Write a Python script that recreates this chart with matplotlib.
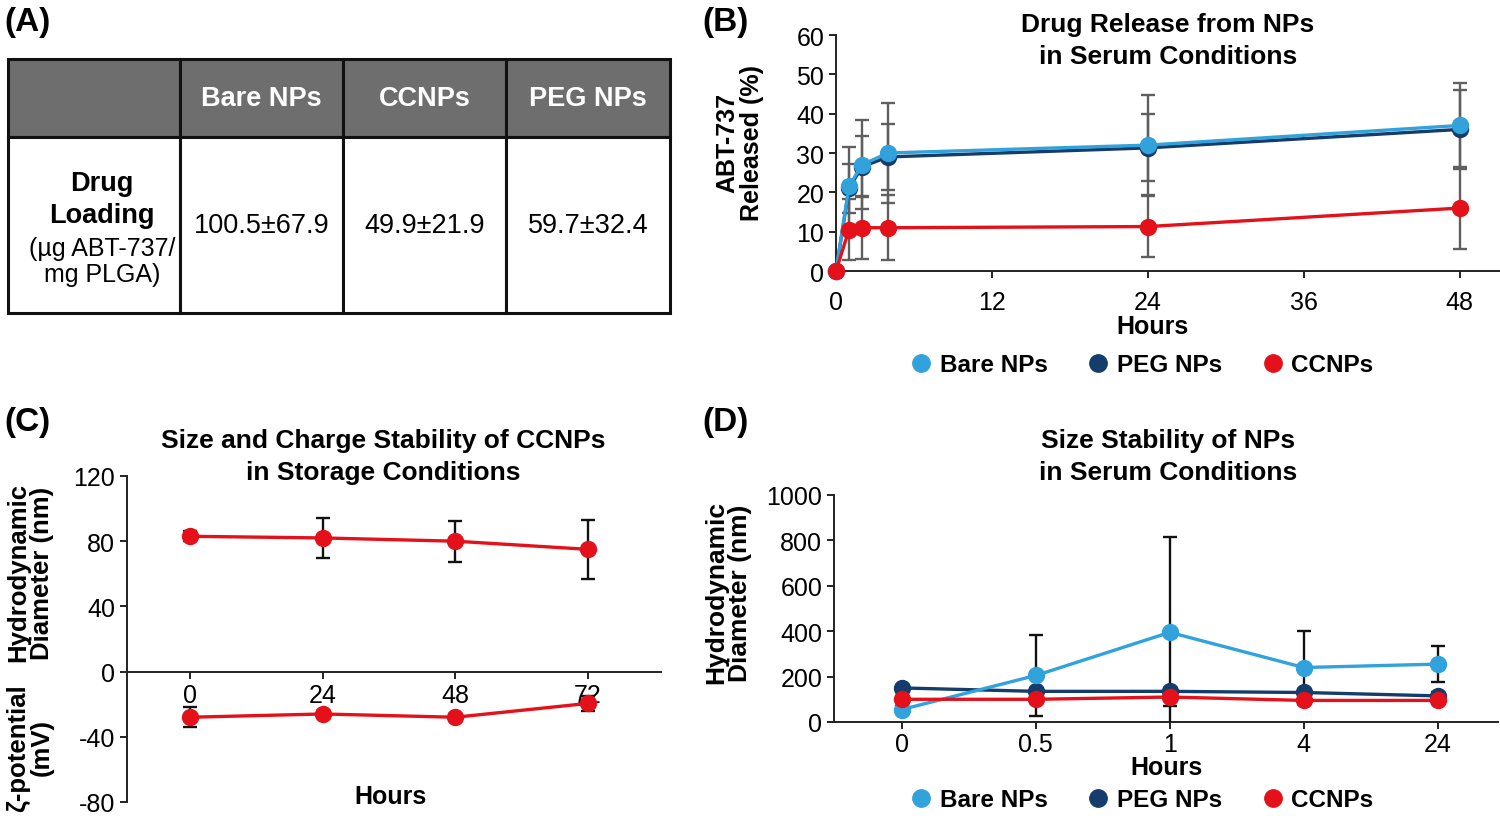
import numpy as np
import matplotlib
matplotlib.use("Agg")
from matplotlib import pyplot as plt
from matplotlib.lines import Line2D

plt.rcParams['font.family'] = ['Liberation Sans', 'DejaVu Sans']
plt.rcParams['axes.unicode_minus'] = False

W, H = 1500, 828

# ---- data -------------------------------------------------------------
groups_a = ['Bare NPs', 'CCNPs', 'PEG NPs']
loading = ['100.5±67.9', '49.9±21.9', '59.7±32.4']

hours_b = [0, 1, 2, 4, 24, 48]
bare_b = [0, 21.5, 27, 30, 32, 37]
bare_b_err = [0, 10, 11.3, 12.7, 12.7, 10.7]
peg_b = [0, 21, 26.5, 29, 31.3, 36]
peg_b_err = [0, 6.3, 7.7, 8.3, 8.5, 10]
cc_b = [0, 10.5, 11, 11, 11.3, 16]
cc_b_err = [0, 7.7, 8, 8.2, 7.8, 10.5]

hours_c = [0, 24, 48, 72]
size_c = [83, 82, 80, 75]
size_c_err = [3, 12.5, 12.5, 18]
zeta_c = [-28, -26, -28, -19.5]
zeta_c_err = [6, 2, 2, 4.5]

hours_d = ['0', '0.5', '1', '4', '24']
bare_d = [55, 205, 395, 240, 255]
bare_d_err = [15, 180, 420, 160, 80]
peg_d = [150, 135, 135, 130, 115]
peg_d_err = [15, 15, 15, 15, 15]
cc_d = [100, 100, 110, 95, 95]
cc_d_err = [15, 15, 40, 15, 15]

C_BARE = '#31a2dc'
C_PEG = '#143d6b'
C_CC = '#e4111b'

TICK_FS = 18
TITLE_FS = 19


def box(l, t, r, b):
    return [l / W, 1 - b / H, (r - l) / W, (b - t) / H]


def style_axes(ax):
    for s in ('top', 'right'):
        ax.spines[s].set_visible(False)
    for s in ('left', 'bottom'):
        ax.spines[s].set_linewidth(1.4)
        ax.spines[s].set_color('#222222')
    ax.tick_params(labelsize=TICK_FS, width=1.4, length=5, color='#222222')


def series(ax, x, y, err, color, ecolor, clip=False):
    ax.errorbar(x, y, yerr=err, color=color, lw=2.4, marker='o', ms=11.5,
                ecolor=ecolor, elinewidth=1.7, capsize=5, capthick=1.7,
                clip_on=clip, zorder=3)


def bold_text(x, y, s, size, **kw):
    fig.text(x / W, 1 - y / H, s, ha='center', va='center', fontsize=size,
             fontweight='bold', **kw)


def marker_legend(y_px):
    handles = [Line2D([], [], ls='none', marker='o', ms=12.5, color=c)
               for c in (C_BARE, C_PEG, C_CC)]
    fig.legend(handles, ['Bare NPs', 'PEG NPs', 'CCNPs'], loc='center',
               bbox_to_anchor=(1140 / W, 1 - y_px / H), ncol=3, frameon=False,
               handletextpad=0.15, columnspacing=1.5, handlelength=1.2,
               prop={'weight': 'bold', 'size': 17.5})


fig = plt.figure(figsize=(15, 8.28), dpi=100)

# ---- panel labels -----------------------------------------------------
for lab, x, y in [('(A)', 4, 22), ('(B)', 702, 22), ('(C)', 4, 423), ('(D)', 702, 423)]:
    fig.text(x / W, 1 - y / H, lab, fontsize=24, fontweight='bold', va='center')

# ---- (A) table --------------------------------------------------------
ax_a = fig.add_axes(box(8, 60, 670, 314))
ax_a.axis('off')
tab = ax_a.table(cellText=[[''] + groups_a, [''] + loading],
                 colWidths=[172, 163, 163, 164], cellLoc='center',
                 bbox=[0, 0, 1, 1])
tab.auto_set_font_size(False)
for (r, c), cell in tab.get_celld().items():
    cell.set_linewidth(2.2)
    cell.set_edgecolor('#111111')
    cell.set_height(78 if r == 0 else 176)
    cell.get_text().set_fontsize(19.5)
    if r == 0:
        cell.set_facecolor('#6e6e6e')
        cell.get_text().set_color('white')
        cell.get_text().set_fontweight('bold')
ax_a.text(94 / 662, 1 - 140 / 254, 'Drug\nLoading', transform=ax_a.transAxes,
          ha='center', va='center', fontsize=19.5, fontweight='bold', linespacing=1.3)
ax_a.text(94 / 662, 1 - 202 / 254, '(µg ABT-737/\nmg PLGA)', transform=ax_a.transAxes,
          ha='center', va='center', fontsize=18, linespacing=1.1)

# ---- (B) drug release -------------------------------------------------
ax_b = fig.add_axes(box(836, 36, 1500, 272))
style_axes(ax_b)
series(ax_b, hours_b, peg_b, peg_b_err, C_PEG, '#5f5f5f')
series(ax_b, hours_b, bare_b, bare_b_err, C_BARE, '#5f5f5f')
series(ax_b, hours_b, cc_b, cc_b_err, C_CC, '#5f5f5f')
ax_b.set_xlim(0, 51.1)
ax_b.set_ylim(0, 60)
ax_b.set_xticks([0, 12, 24, 36, 48])
ax_b.set_yticks(range(0, 61, 10))
ax_b.tick_params(axis='x', pad=9)
bold_text(1168, 41, 'Drug Release from NPs\nin Serum Conditions', TITLE_FS, linespacing=1.38)
bold_text(740, 143, 'ABT-737\nReleased (%)', 18, rotation=90, linespacing=1.05)
bold_text(1153, 327, 'Hours', 18)
marker_legend(366)

# ---- (C) storage stability ---------------------------------------------
ax_c = fig.add_axes(box(127, 477, 661, 803))
style_axes(ax_c)
ax_c.spines['bottom'].set_position(('data', 0))
series(ax_c, hours_c, size_c, size_c_err, C_CC, '#111111')
series(ax_c, hours_c, zeta_c, zeta_c_err, C_CC, '#111111')
ax_c.set_xlim(-11.4, 85.2)
ax_c.set_ylim(-80, 120)
ax_c.set_xticks(hours_c)
ax_c.set_yticks(range(-80, 121, 40))
ax_c.tick_params(axis='x', pad=3)
bold_text(383, 457, 'Size and Charge Stability of CCNPs\nin Storage Conditions', TITLE_FS,
          linespacing=1.38)
bold_text(30, 573, 'Hydrodynamic\nDiameter (nm)', 18.5, rotation=90, linespacing=1.0)
bold_text(30, 748, 'ζ-potential\n(mV)', 18.5, rotation=90, linespacing=1.0)
bold_text(390, 797, 'Hours', 18)

# ---- (D) serum size stability -----------------------------------------
ax_d = fig.add_axes(box(834, 496, 1498, 723))
style_axes(ax_d)
xd = np.arange(len(hours_d))
series(ax_d, xd, peg_d, peg_d_err, C_PEG, '#111111', clip=True)
series(ax_d, xd, bare_d, bare_d_err, C_BARE, '#111111', clip=True)
series(ax_d, xd, cc_d, cc_d_err, C_CC, '#111111', clip=True)
ax_d.set_xlim(-0.507, 4.45)
ax_d.set_ylim(0, 1000)
ax_d.set_xticks(xd)
ax_d.set_xticklabels(hours_d)
ax_d.set_yticks(range(0, 1001, 200))
ax_d.tick_params(axis='x', pad=2)
bold_text(1168, 457, 'Size Stability of NPs\nin Serum Conditions', TITLE_FS, linespacing=1.38)
bold_text(728, 593, 'Hydrodynamic\nDiameter (nm)', 19, rotation=90, linespacing=1.0)
bold_text(1166, 768, 'Hours', 18)
marker_legend(801)

fig.savefig('out.png', dpi=100)
